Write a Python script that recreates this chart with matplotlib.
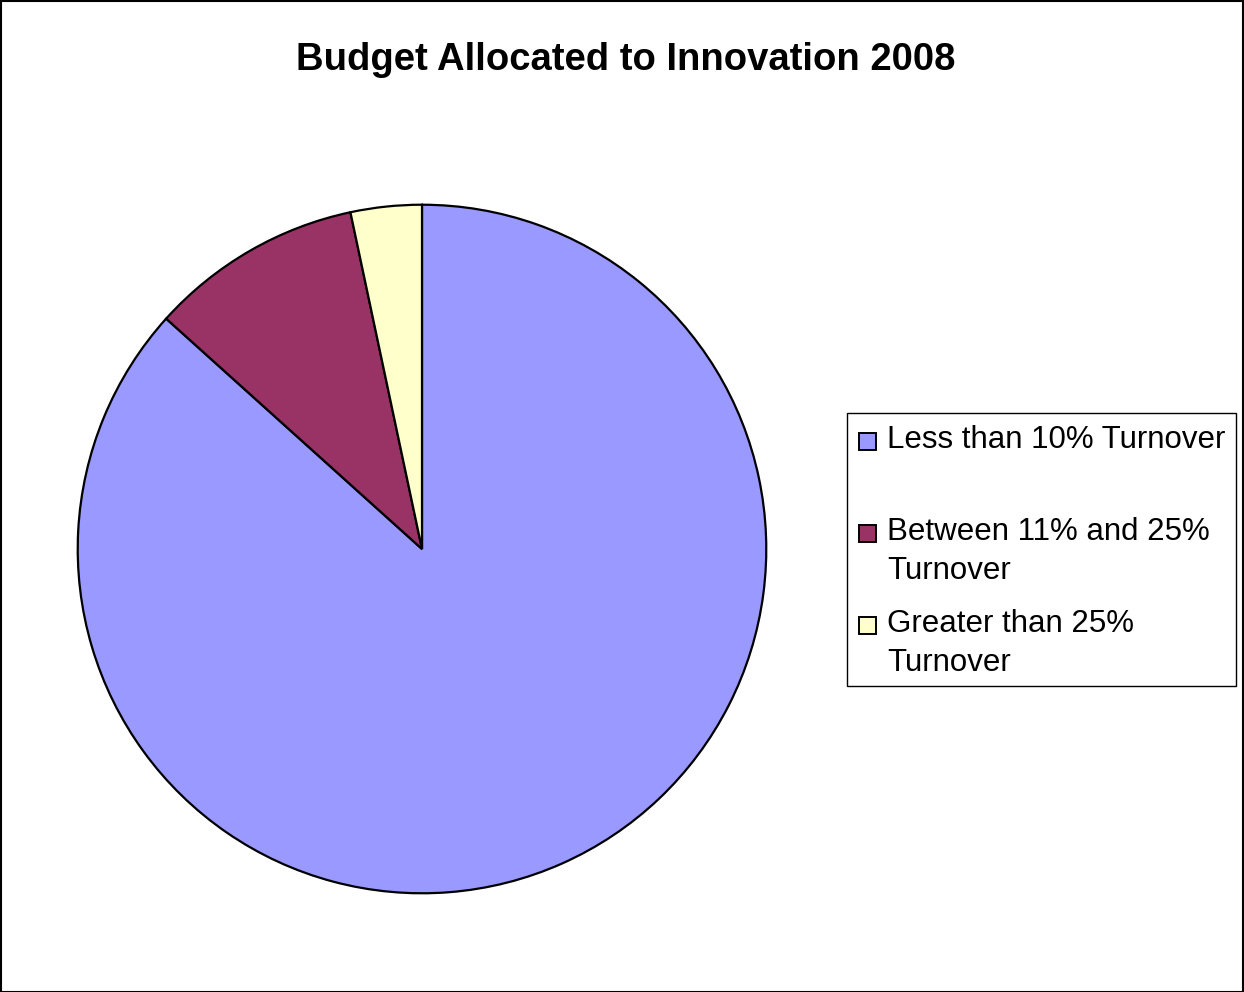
import matplotlib.pyplot as plt
from matplotlib.patches import Rectangle

# budget share categories (counts of firms)
labels = ["Less than 10% Turnover",
          "Between 11% and 25%\nTurnover",
          "Greater than 25%\nTurnover"]
values = [26, 3, 1]
colors = ["#9999FF", "#993366", "#FFFFCC"]

W, H = 1244, 992
fig = plt.figure(figsize=(W / 100, H / 100), dpi=100)
plt.rcParams['font.family'] = ['Liberation Sans', 'DejaVu Sans']

# pie area in pixel units
cx, cy, r = 422, 549, 346
ax = fig.add_axes([(cx - r) / W, 1 - (cy + r) / H, 2 * r / W, 2 * r / H])
ax.pie(values, colors=colors, startangle=90, counterclock=False, radius=1,
       wedgeprops=dict(edgecolor="black", linewidth=1.6))
ax.set_xlim(-1.005, 1.005)
ax.set_ylim(-1.005, 1.005)
ax.set_aspect("equal")
ax.axis("off")

fig.text(626 / W, 1 - 60 / H, "Budget Allocated to Innovation 2008",
         ha="center", va="center", fontsize=27.5, fontweight="bold")

# legend drawn by hand
fig.patches.append(Rectangle((847 / W, 1 - 686 / H), (1236 - 847) / W, (686 - 413) / H,
                             transform=fig.transFigure, facecolor="white",
                             edgecolor="black", linewidth=1))
ys = [440, 532, 624]
for lab, col, y in zip(labels, colors, ys):
    fig.patches.append(Rectangle((859 / W, 1 - (y + 10) / H), 17 / W, 17 / H,
                                 transform=fig.transFigure, facecolor=col,
                                 edgecolor="black", linewidth=1.4))
    fig.text(887 / W, 1 - (y - 15) / H, lab, ha="left", va="top",
             fontsize=22.5, linespacing=1.38)

# outer frame
fig.patches.append(Rectangle((0.5 / W, 0.5 / H), (W - 1.5) / W, (H - 1.5) / H,
                             transform=fig.transFigure, facecolor="none",
                             edgecolor="black", linewidth=1.5))

fig.savefig("out.png", dpi=100, facecolor="white")
